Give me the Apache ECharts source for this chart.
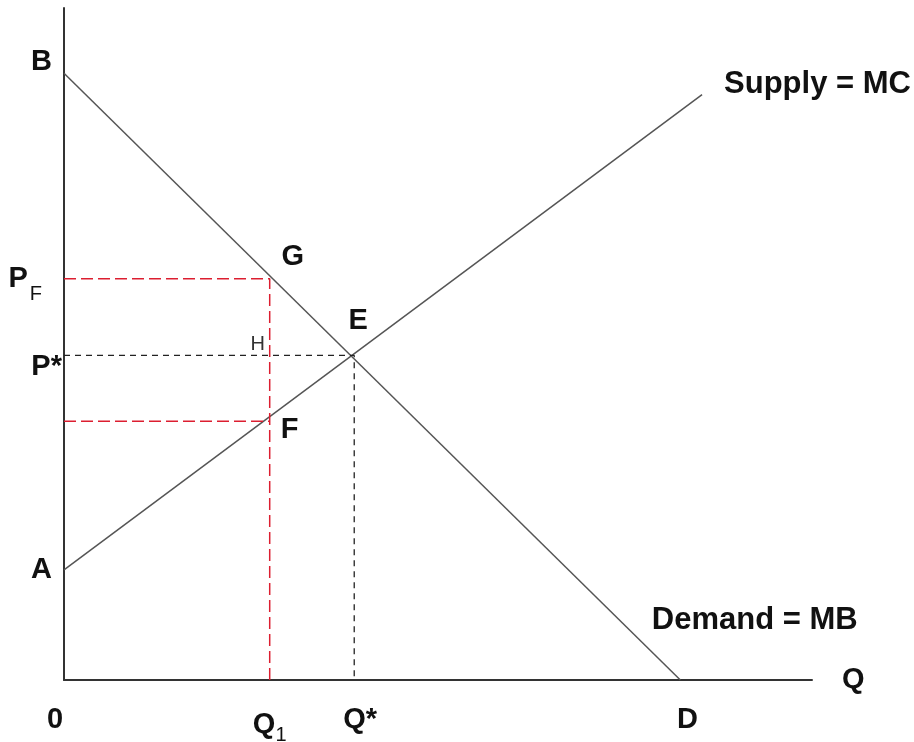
<!DOCTYPE html>
<html>
<head>
<meta charset="utf-8">
<script src="https://cdn.jsdelivr.net/npm/echarts@6/dist/echarts.min.js"></script>
<style>
  html, body { margin: 0; padding: 0; background: #fff; }
  #chart { width: 914px; height: 742px; }
</style>
</head>
<body>
<div id="chart"></div>
<script>
// values (quantity 0..100, price 0..100)
const supplyLine = [[0, 16.4], [85.3, 87.1]]
const demandLine = [[0, 90.3], [82.4, 0]]
const pointE = [38.8, 48.3]
const pointG = [27.5, 59.7]
const pointF = [27.5, 38.5]
const qTicks = [0, 27.5, 38.8, 82.4]
const qTickLabels = ['{z|0}', '{q|Q}{sub|1}', '{qs|Q*}', '{d|D}']
const pTicks = [16.4, 48.3, 59.7, 90.3]
const pTickLabels = ['{a|A}', '{ps|P*}', '{p|P}{pf|F}', '{b|B}']

const font = 'Liberation Sans, Arial, sans-serif'
const lineGray = '#555'
const red = '#dc1e30'

var myChart = echarts.init(document.getElementById('chart'))

const big = { fontFamily: font, fontWeight: 'bold', fontSize: 29, color: '#111' }
const wide = { fontFamily: font, fontWeight: 'bold', fontSize: 31, color: '#111' }

var option = {
  animation: false,
  grid: { left: 64, right: 102, top: 8, bottom: 62, outerBoundsMode: 'none' },
  xAxis: {
    type: 'value',
    min: 0,
    max: 100,
    name: 'Q',
    nameLocation: 'end',
    nameGap: 30,
    nameTextStyle: Object.assign({}, big, { padding: [22, 0, 0, 0] }),
    axisLine: { onZero: false, lineStyle: { color: '#333', width: 2 } },
    axisTick: { show: false },
    splitLine: { show: false },
    axisLabel: {
      customValues: qTicks,
      margin: 25,
      formatter: function (v) { return qTickLabels[qTicks.indexOf(v)] },
      rich: {
        z: Object.assign({}, big, { padding: [0, 18, 0, 0] }),
        q: Object.assign({}, big),
        sub: { fontFamily: font, fontSize: 20, color: '#111', padding: [20, 0, 0, 0] },
        qs: Object.assign({}, big, { padding: [0, 0, 0, 12] }),
        d: Object.assign({}, big, { padding: [0, 0, 0, 14] })
      }
    }
  },
  yAxis: {
    type: 'value',
    min: 0,
    max: 100,
    axisLine: { onZero: false, lineStyle: { color: '#333', width: 2 } },
    axisTick: { show: false },
    splitLine: { show: false },
    axisLabel: {
      customValues: pTicks,
      margin: 2,
      formatter: function (v) { return pTickLabels[pTicks.indexOf(v)] },
      rich: {
        a: Object.assign({}, big, { padding: [0, 10, 0, 0] }),
        b: Object.assign({}, big, { padding: [0, 10, 22, 0] }),
        ps: Object.assign({}, big, { padding: [24, 0, 0, 0] }),
        p: Object.assign({}, big),
        pf: { fontFamily: font, fontSize: 20, color: '#111', padding: [32, 20, 0, 2] }
      }
    }
  },
  series: [
    {
      name: 'Supply',
      type: 'line',
      data: supplyLine,
      symbol: 'none',
      lineStyle: { color: lineGray, width: 1.5 },
      endLabel: Object.assign({
        show: true,
        formatter: 'Supply = MC',
        offset: [14, -10]
      }, wide)
    },
    {
      name: 'Demand',
      type: 'line',
      data: demandLine,
      symbol: 'none',
      lineStyle: { color: lineGray, width: 1.5 }
    },
    {
      name: 'P* line',
      type: 'line',
      data: [[0, pointE[1]], pointE, [pointE[0], 0]],
      symbol: 'none',
      lineStyle: { color: '#222', width: 1.3, type: [6, 5] }
    },
    {
      name: 'PF line',
      type: 'line',
      data: [[0, pointG[1]], pointG, [pointG[0], 0]],
      symbol: 'none',
      lineStyle: { color: red, width: 1.5, type: [12, 5] }
    },
    {
      name: 'F line',
      type: 'line',
      data: [[0, pointF[1]], pointF],
      symbol: 'none',
      lineStyle: { color: red, width: 1.5, type: [12, 5] }
    },
    {
      name: 'labels',
      type: 'scatter',
      symbolSize: 0,
      silent: true,
      itemStyle: { opacity: 1 },
      data: [
        { value: pointG, label: { formatter: 'G', offset: [23, -22] } },
        { value: pointE, label: { formatter: 'E', offset: [4, -34] } },
        { value: pointF, label: { formatter: 'F', offset: [20, 9] } },
        { value: [pointG[0], pointE[1]], label: { formatter: 'H', offset: [-12, -11], fontWeight: 'normal', fontSize: 20, color: '#333' } },
        { value: [74.3, 8.9], label: Object.assign({ formatter: 'Demand = MB', position: 'right', distance: 32 }, wide) }
      ],
      label: Object.assign({ show: true, position: 'inside' }, big)
    }
  ]
}

myChart.setOption(option)
</script>
</body>
</html>
